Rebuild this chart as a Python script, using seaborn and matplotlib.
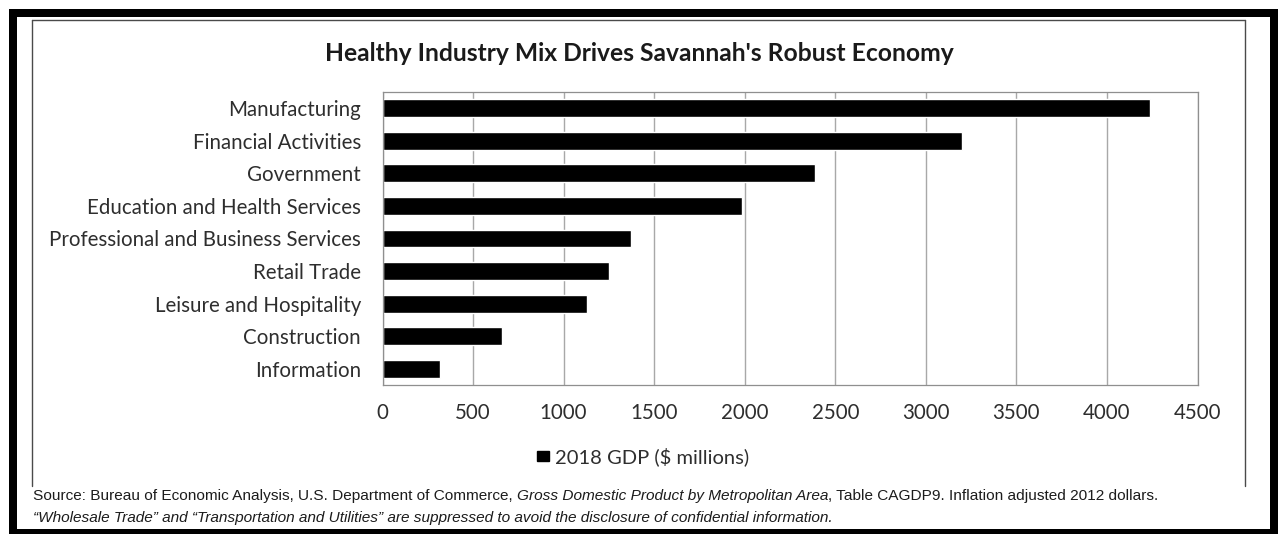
import matplotlib
matplotlib.use("Agg")
import matplotlib.pyplot as plt
import pandas as pd
import seaborn as sns
from matplotlib.patches import Patch, Rectangle
from matplotlib.lines import Line2D

# ---- data -------------------------------------------------------------
industries = [
    "Manufacturing",
    "Financial Activities",
    "Government",
    "Education and Health Services",
    "Professional and Business Services",
    "Retail Trade",
    "Leisure and Hospitality",
    "Construction",
    "Information",
]
gdp_2018 = [4238, 3197, 2390, 1985, 1372, 1249, 1130, 660, 315]
x_ticks = [0, 500, 1000, 1500, 2000, 2500, 3000, 3500, 4000, 4500]
series_label = "2018 GDP ($ millions)"
title = "Healthy Industry Mix Drives Savannah's Robust Economy"
source_line1 = [
    ("Source: Bureau of Economic Analysis, U.S. Department of Commerce, ", "normal"),
    ("Gross Domestic Product by Metropolitan Area", "italic"),
    (", Table CAGDP9. Inflation adjusted 2012 dollars.", "normal"),
]
source_line2 = [
    ("\u201cWholesale Trade\u201d and \u201cTransportation and Utilities\u201d are suppressed "
     "to avoid the disclosure of confidential information.", "italic"),
]

# ---- figure setup -----------------------------------------------------
W, H = 1280, 534
sns.set_theme(style="white")
plt.rcParams["font.family"] = ["Lato", "DejaVu Sans"]

fig = plt.figure(figsize=(W / 100, H / 100), dpi=100)
fig.patch.set_facecolor("white")
renderer = fig.canvas.get_renderer()


def fx(px):
    return px / W


def fy(py):
    return 1 - py / H


def text_width(s, **kw):
    t = fig.text(0, 0, s, **kw)
    w = t.get_window_extent(renderer).width
    t.remove()
    return w


def fit_size(s, target_px, **kw):
    return 10 * target_px / text_width(s, fontsize=10, **kw)


def advance(s, **kw):
    return text_width(s + "|", **kw) - text_width("|", **kw)


# ---- bar chart --------------------------------------------------------
ax_l, ax_r, ax_t, ax_b = 382.5, 1197.5, 92, 385
ax = fig.add_axes([fx(ax_l), fy(ax_b), (ax_r - ax_l) / W, (ax_b - ax_t) / H])

df = pd.DataFrame({"industry": industries, "gdp": gdp_2018})
sns.barplot(data=df, x="gdp", y="industry", order=industries, orient="h",
            color="black", saturation=1, width=0.55, ax=ax)

ax.set_xlim(0, 4500)
ax.set_ylim(len(industries) - 0.5, -0.5)
ax.set_xticks(x_ticks)
ax.set_xticklabels([str(v) for v in x_ticks])
ax.set_xlabel("")
ax.set_ylabel("")
ax.xaxis.grid(True, color="#a8a8a8", linewidth=1.0)
ax.yaxis.grid(False)
ax.set_axisbelow(True)
for sp in ax.spines.values():
    sp.set_visible(True)
    sp.set_color("#8f8f8f")
    sp.set_linewidth(0.9)

label_size = fit_size("Professional and Business Services", 313)
ax.tick_params(axis="y", length=0, pad=15.5, labelsize=label_size, labelcolor="#2e2e2e")
ax.tick_params(axis="x", length=0, pad=13, labelsize=label_size, labelcolor="#2e2e2e")

# ---- legend -----------------------------------------------------------
leg_size = fit_size(series_label, 194)
leg_px = leg_size * 100 / 72
handle = Patch(facecolor="black", edgecolor="black", label=series_label)
ax.legend(handles=[handle], loc="center", frameon=False,
          bbox_to_anchor=(fx(643), fy(457)), bbox_transform=fig.transFigure,
          fontsize=leg_size, handlelength=11.5 / leg_px, handleheight=8.0 / leg_px,
          handletextpad=0.3, labelcolor="#2e2e2e")

# ---- title ------------------------------------------------------------
title_size = fit_size(title, 632, fontweight="bold")
fig.text(fx(639), fy(61), title, ha="center", va="baseline",
         fontsize=title_size, fontweight="bold", color="#1a1a1a")

# ---- source notes -----------------------------------------------------
src_family = ["Liberation Sans", "DejaVu Sans"]
total = sum(advance(s, fontsize=10, fontstyle=st, family=src_family) for s, st in source_line1)
src_size = 10 * 1126 / total


def draw_runs(x0, y_base, runs):
    x = x0
    for s, st in runs:
        fig.text(fx(x), fy(y_base), s, ha="left", va="baseline", fontsize=src_size,
                 fontstyle=st, family=src_family, color="#1c1c1c")
        x += advance(s, fontsize=src_size, fontstyle=st, family=src_family)


draw_runs(33, 500, source_line1)
draw_runs(33, 522, source_line2)

# ---- frames -----------------------------------------------------------
frame_color = "#4a4a4a"
for (x0, y0, x1, y1) in [(32, 20, 1245, 20), (32, 20, 32, 486), (1245, 20, 1245, 486)]:
    fig.add_artist(Line2D([fx(x0), fx(x1)], [fy(y0), fy(y1)], color=frame_color,
                          linewidth=1.0, transform=fig.transFigure))

for (x0, y0, x1, y1) in [(9, 9, 1278, 17), (9, 9, 17, 534), (1270, 9, 1278, 534), (9, 529, 1278, 534)]:
    fig.add_artist(Rectangle((fx(x0), fy(y1)), (x1 - x0) / W, (y1 - y0) / H,
                             facecolor="black", edgecolor="none", transform=fig.transFigure))

fig.savefig("out.png", dpi=100, facecolor="white")
